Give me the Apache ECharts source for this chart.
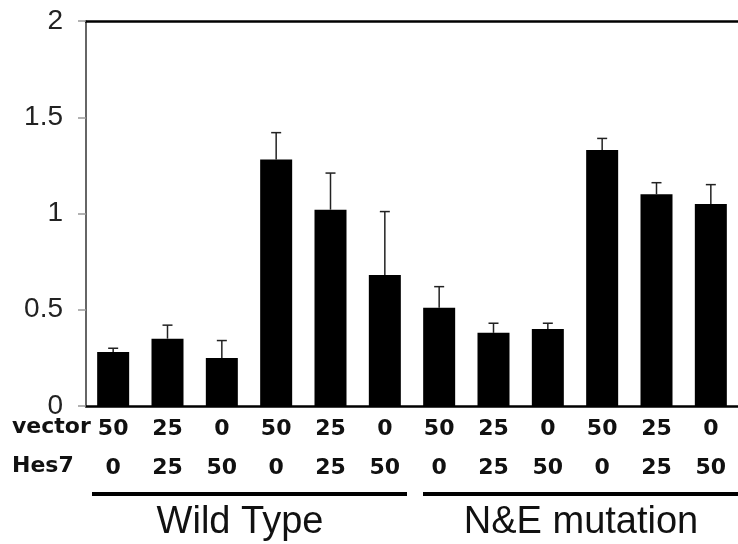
<!DOCTYPE html>
<html>
<head>
<meta charset="utf-8">
<script src="https://cdn.jsdelivr.net/npm/echarts@6/dist/echarts.min.js"></script>
<style>
html,body{margin:0;padding:0;background:#fff;}
#main{width:738px;height:544px;}
</style>
</head>
<body>
<div id="main"></div>
<script>
var vectorRow = ['50','25','0','50','25','0','50','25','0','50','25','0'];
var hes7Row = ['0','25','50','0','25','50','0','25','50','0','25','50'];
var means = [0.28, 0.35, 0.25, 1.28, 1.02, 0.68, 0.51, 0.38, 0.40, 1.33, 1.10, 1.05];
var errTop = [0.30, 0.42, 0.34, 1.42, 1.21, 1.01, 0.62, 0.43, 0.43, 1.39, 1.16, 1.15];
var groups = ['Wild Type', 'N&E mutation'];

var cats = [];
var errData = [];
for (var i = 0; i < means.length; i++) {
  cats.push(vectorRow[i] + '\n' + hes7Row[i]);
  errData.push([i, errTop[i], means[i]]);
}

var myChart = echarts.init(document.getElementById('main'));
var option = {
  animation: false,
  grid: {left: 86, top: 21, width: 660, height: 385},
  xAxis: [
    {
      type: 'category',
      data: cats,
      axisLine: {lineStyle: {color: '#000', width: 2.5}},
      axisTick: {show: false},
      axisLabel: {
        margin: 4,
        lineHeight: 39,
        fontFamily: 'DejaVu Sans',
        fontWeight: 'bold',
        fontSize: 22,
        color: '#111'
      }
    },
    {
      type: 'category',
      position: 'top',
      data: cats,
      axisLine: {lineStyle: {color: '#000', width: 2.5}},
      axisTick: {show: false},
      axisLabel: {show: false}
    }
  ],
  yAxis: {
    type: 'value',
    min: 0,
    max: 2,
    interval: 0.5,
    splitLine: {show: false},
    axisLine: {show: true, lineStyle: {color: '#333', width: 1.5}},
    axisTick: {show: true, length: 8, lineStyle: {color: '#999', width: 1.5}},
    axisLabel: {margin: 23, fontFamily: 'Liberation Sans', fontSize: 28, color: '#222'}
  },
  series: [
    {
      type: 'bar',
      data: means,
      barWidth: 32,
      itemStyle: {color: '#000'}
    },
    {
      type: 'custom',
      data: errData,
      z: 1,
      renderItem: function (params, api) {
        var top = api.coord([api.value(0), api.value(1)]);
        var base = api.coord([api.value(0), api.value(2)]);
        var style = {stroke: '#222', lineWidth: 1.5};
        return {
          type: 'group',
          children: [
            {type: 'line', shape: {x1: top[0], y1: top[1], x2: base[0], y2: base[1]}, style: style},
            {type: 'line', shape: {x1: top[0] - 5, y1: top[1], x2: top[0] + 5, y2: top[1]}, style: style}
          ]
        };
      }
    }
  ],
  graphic: [
    {type: 'text', left: 12, top: 416, style: {text: 'vector', font: 'bold 22px "DejaVu Sans"', fill: '#111'}},
    {type: 'text', left: 12, top: 455, style: {text: 'Hes7', font: 'bold 22px "DejaVu Sans"', fill: '#111'}},
    {type: 'rect', shape: {x: 92, y: 492, width: 315, height: 4}, style: {fill: '#000'}},
    {type: 'rect', shape: {x: 423, y: 492, width: 320, height: 4}, style: {fill: '#000'}},
    {type: 'text', x: 240, y: 523, style: {text: groups[0], font: '38px "Liberation Sans"', fill: '#111', align: 'center', verticalAlign: 'middle'}},
    {type: 'text', x: 581, y: 523, style: {text: groups[1], font: '38px "Liberation Sans"', fill: '#111', align: 'center', verticalAlign: 'middle'}}
  ]
};
myChart.setOption(option);
</script>
</body>
</html>
